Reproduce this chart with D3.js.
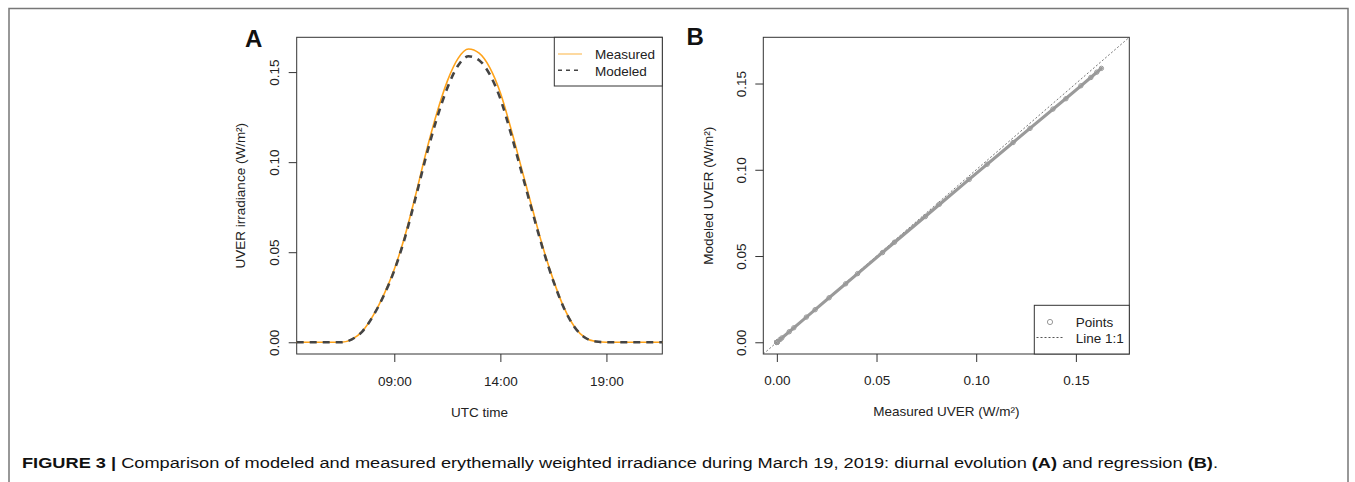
<!DOCTYPE html>
<html>
<head>
<meta charset="utf-8">
<script src="https://cdn.jsdelivr.net/npm/d3@7"></script>
<style>
  body { margin: 0; background: #fff; }
  svg { display: block; font-family: "Liberation Sans", Arial, sans-serif; }
</style>
</head>
<body>
<svg width="1355" height="482"></svg>
<script>
// UTC times and UVER values (W/m2)
let times = ["04:24","05:00","05:30","06:00","06:30","07:00","07:30","08:00","08:30","09:00","09:30",
             "10:00","10:30","11:00","11:30","12:00","12:30","13:00","13:30","14:00","14:30",
             "15:00","15:30","16:00","16:30","17:00","17:30","18:00","18:30","19:00","19:30",
             "20:00","20:30","21:00","21:38"];
let measured = [0, 0, 0, 0, 0, 0.0016, 0.0062, 0.0148, 0.0262, 0.0405, 0.0590,
                0.0815, 0.1055, 0.1270, 0.1450, 0.1575, 0.1628, 0.1605, 0.1525, 0.1385, 0.1185,
                0.0965, 0.0745, 0.0530, 0.0345, 0.0192, 0.0085, 0.0025, 0.0004, 0, 0,
                0, 0, 0, 0];
let modeled  = [0, 0, 0, 0, 0, 0.0016, 0.0061, 0.0146, 0.0258, 0.0398, 0.0580,
                0.0800, 0.1032, 0.1240, 0.1412, 0.1535, 0.1588, 0.1566, 0.1487, 0.1352, 0.1158,
                0.0944, 0.0729, 0.0520, 0.0339, 0.0189, 0.0084, 0.0025, 0.0004, 0, 0,
                0, 0, 0, 0];
let timeTicks = ["09:00", "14:00", "19:00"];
let uverTicks = [0, 0.05, 0.10, 0.15];
let legendA = ["Measured", "Modeled"];
let legendB = ["Points", "Line 1:1"];

var svg = d3.select("svg");
var parseT = d3.timeParse("%H:%M");
var fmt = d3.format(".2f");

// R style 4% padding of the ranges
function pad(lo, hi){ let d = (hi - lo) * 0.04; return [lo - d, hi + d]; }

// frame around the figure
svg.append("path")
    .attr("d", "M9,482 V8.5 H1348 V482")
    .attr("fill", "none")
    .attr("stroke", "#777")
    .attr("stroke-width", 1.5);

// ---------- panel A ----------
let A = {l: 296.7, r: 662.3, t: 37.3, b: 354};
let x = d3.scaleTime()
    .domain(d3.extent(times, parseT))
    .range([A.l, A.r]);
let y = d3.scaleLinear()
    .domain(pad(0, d3.max(measured)))
    .range([A.b, A.t]);

let gA = svg.append("g");
gA.append("rect")
    .attr("x", A.l).attr("y", A.t)
    .attr("width", A.r - A.l).attr("height", A.b - A.t)
    .attr("fill", "none").attr("stroke", "#333");

gA.append("g")
    .attr("transform", "translate(0," + A.b + ")")
    .call(d3.axisBottom(x).tickValues(timeTicks.map(parseT)).tickSize(8).tickSizeOuter(0).tickFormat(d3.timeFormat("%H:%M")))
    .call(g => g.select(".domain").remove())
    .call(g => g.selectAll("line").attr("stroke", "#333"))
    .call(g => g.selectAll("text").attr("y", 31.5).attr("dy", 0).attr("font-size", 13.5).attr("fill", "#222").attr("font-family", null));

let yAxA = gA.append("g").attr("transform", "translate(" + A.l + ",0)")
    .call(d3.axisLeft(y).tickValues(uverTicks).tickSize(8).tickSizeOuter(0).tickFormat(fmt));
yAxA.select(".domain").remove();
yAxA.selectAll("line").attr("stroke", "#333");
yAxA.selectAll("text")
    .attr("x", null).attr("dy", null)
    .attr("text-anchor", "middle").attr("font-size", 13.5).attr("fill", "#222").attr("font-family", null)
    .attr("transform", "translate(-17.5,0) rotate(-90)");

let lineA = d3.line()
    .x((d, i) => x(parseT(times[i])))
    .y(d => y(d))
    .curve(d3.curveMonotoneX);

gA.append("path")
    .datum(measured)
    .attr("d", lineA)
    .attr("fill", "none")
    .attr("stroke", "#FFA31A")
    .attr("stroke-width", 1.6);

gA.append("path")
    .datum(modeled)
    .attr("d", lineA)
    .attr("fill", "none")
    .attr("stroke", "#444")
    .attr("stroke-width", 2.6)
    .attr("stroke-dasharray", "7,6");

// legend A
let legA = gA.append("g");
legA.append("rect")
    .attr("x", 554.3).attr("y", A.t)
    .attr("width", A.r - 554.3).attr("height", 86 - A.t)
    .attr("fill", "#fff").attr("stroke", "#333");
legA.selectAll("text").data(legendA).enter().append("text")
    .attr("x", 595).attr("y", (d, i) => 59.3 + i * 16.3)
    .attr("font-size", 13.5).attr("fill", "#222")
    .text(d => d);
legA.append("line").attr("x1", 558).attr("x2", 582).attr("y1", 54).attr("y2", 54)
    .attr("stroke", "#FDD9A0").attr("stroke-width", 2);
legA.append("line").attr("x1", 558).attr("x2", 582).attr("y1", 70.3).attr("y2", 70.3)
    .attr("stroke", "#444").attr("stroke-width", 1.5).attr("stroke-dasharray", "4,4");

gA.append("text").attr("x", 245).attr("y", 47.3)
    .attr("font-size", 24).attr("font-weight", "bold").attr("fill", "#111").text("A");
gA.append("text").attr("x", (A.l + A.r) / 2).attr("y", 416.5)
    .attr("text-anchor", "middle").attr("font-size", 13.5).attr("fill", "#222").text("UTC time");
gA.append("text")
    .attr("transform", "translate(244.5," + (A.t + A.b) / 2 + ") rotate(-90)")
    .attr("text-anchor", "middle").attr("font-size", 13.5).attr("fill", "#222").text("UVER irradiance (W/m²)");

// ---------- panel B ----------
let B = {l: 763.3, r: 1129.3, t: 37.3, b: 354};
let xb = d3.scaleLinear().domain(pad(0, 0.17)).range([B.l, B.r]);
let yb = d3.scaleLinear().domain(pad(0, 0.17)).range([B.b, B.t]);

let gB = svg.append("g");
gB.append("defs").append("clipPath").attr("id", "clipB")
    .append("rect").attr("x", B.l).attr("y", B.t).attr("width", B.r - B.l).attr("height", B.b - B.t);

gB.append("rect")
    .attr("x", B.l).attr("y", B.t)
    .attr("width", B.r - B.l).attr("height", B.b - B.t)
    .attr("fill", "none").attr("stroke", "#333");

let xAxB = gB.append("g").attr("transform", "translate(0," + B.b + ")")
    .call(d3.axisBottom(xb).tickValues(uverTicks).tickSize(8).tickSizeOuter(0).tickFormat(fmt));
xAxB.select(".domain").remove();
xAxB.selectAll("line").attr("stroke", "#333");
xAxB.selectAll("text").attr("y", 31).attr("dy", 0).attr("font-size", 13.5).attr("fill", "#222").attr("font-family", null);

let yAxB = gB.append("g").attr("transform", "translate(" + B.l + ",0)")
    .call(d3.axisLeft(yb).tickValues(uverTicks).tickSize(8).tickSizeOuter(0).tickFormat(fmt));
yAxB.select(".domain").remove();
yAxB.selectAll("line").attr("stroke", "#333");
yAxB.selectAll("text")
    .attr("x", null).attr("dy", null)
    .attr("text-anchor", "middle").attr("font-size", 13.5).attr("fill", "#222").attr("font-family", null)
    .attr("transform", "translate(-17,0) rotate(-90)");

let pairs = measured.map((m, i) => [m, modeled[i]]);

// 1:1 reference line
gB.append("line")
    .attr("clip-path", "url(#clipB)")
    .attr("x1", xb(xb.domain()[0])).attr("y1", yb(xb.domain()[0]))
    .attr("x2", xb(xb.domain()[1])).attr("y2", yb(xb.domain()[1]))
    .attr("stroke", "#666").attr("stroke-width", 0.9).attr("stroke-dasharray", "2,2");

// dense scatter drawn as a band through the paired points
gB.append("path")
    .datum(pairs)
    .attr("d", d3.line().x(d => xb(d[0])).y(d => yb(d[1])))
    .attr("fill", "none")
    .attr("stroke", "#9a9a9a")
    .attr("stroke-width", 3)
    .attr("stroke-linejoin", "round");

gB.append("g").selectAll("circle").data(pairs).enter().append("circle")
    .attr("cx", d => xb(d[0])).attr("cy", d => yb(d[1]))
    .attr("r", 2.2)
    .attr("fill", "none").attr("stroke", "#999").attr("stroke-width", 1);

// legend B
let legB = gB.append("g");
legB.append("rect")
    .attr("x", 1034.3).attr("y", 305.3)
    .attr("width", B.r - 1034.3).attr("height", B.b - 305.3)
    .attr("fill", "#fff").attr("stroke", "#333");
legB.selectAll("text").data(legendB).enter().append("text")
    .attr("x", 1075.7).attr("y", (d, i) => 327 + i * 16)
    .attr("font-size", 13.5).attr("fill", "#222")
    .text(d => d);
legB.append("circle").attr("cx", 1050).attr("cy", 322).attr("r", 2.6)
    .attr("fill", "none").attr("stroke", "#999").attr("stroke-width", 1);
legB.append("line").attr("x1", 1036.5).attr("x2", 1063).attr("y1", 337.5).attr("y2", 337.5)
    .attr("stroke", "#555").attr("stroke-width", 1).attr("stroke-dasharray", "2,2");

gB.append("text").attr("x", 686.5).attr("y", 45)
    .attr("font-size", 24).attr("font-weight", "bold").attr("fill", "#111").text("B");
gB.append("text").attr("x", (B.l + B.r) / 2).attr("y", 416)
    .attr("text-anchor", "middle").attr("font-size", 13.5).attr("fill", "#222").text("Measured UVER (W/m²)");
gB.append("text")
    .attr("transform", "translate(713," + (B.t + B.b) / 2 + ") rotate(-90)")
    .attr("text-anchor", "middle").attr("font-size", 13.5).attr("fill", "#222").text("Modeled UVER (W/m²)");

// ---------- caption ----------
let cap = svg.append("text")
    .attr("x", 22).attr("y", 468)
    .attr("font-size", 15.5).attr("fill", "#111")
    .attr("textLength", 1196).attr("lengthAdjust", "spacingAndGlyphs");
let capParts = [
  ["FIGURE 3 |", true],
  [" Comparison of modeled and measured erythemally weighted irradiance during March 19, 2019: diurnal evolution ", false],
  ["(A)", true], [" and regression ", false], ["(B)", true], [".", false]
];
capParts.forEach(p => {
  cap.append("tspan").attr("font-weight", p[1] ? "bold" : null).text(p[0]);
});
</script>
</body>
</html>
